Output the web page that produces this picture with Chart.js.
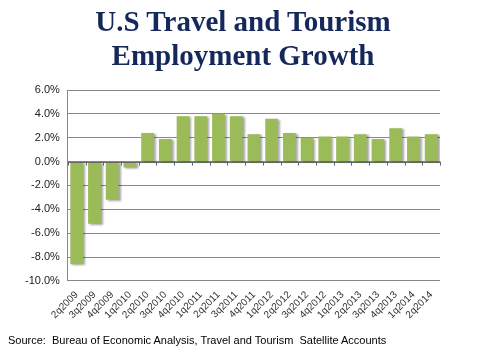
<!DOCTYPE html>
<html>
<head>
<meta charset="utf-8">
<script src="https://cdn.jsdelivr.net/npm/chart.js@4"></script>
<style>
  html, body { margin: 0; padding: 0; background: #fff; }
  #wrap { position: relative; width: 480px; height: 360px; }
  #title { position: absolute; left: 0; top: 4px; width: 486px; text-align: center; font: bold 29px/34px "Liberation Serif", "Times New Roman", serif; color: #14285a; }
  #source { position: absolute; left: 8px; top: 334px; font: 11px "Liberation Sans", Arial, sans-serif; color: #000; white-space: pre; }
</style>
</head>
<body>
<div id="wrap">
  <canvas id="myChart" width="480" height="360"></canvas>
  <div id="title"></div>
  <div id="source">Source:  Bureau of Economic Analysis, Travel and Tourism  Satellite Accounts</div>
</div>
<script>
  const quarters = ['2q2009', '3q2009', '4q2009', '1q2010', '2q2010', '3q2010', '4q2010',
    '1q2011', '2q2011', '3q2011', '4q2011', '1q2012', '2q2012', '3q2012', '4q2012',
    '1q2013', '2q2013', '3q2013', '4q2013', '1q2014', '2q2014'];
  const growth = [-8.6, -5.2, -3.2, -0.5, 2.4, 1.9, 3.8, 3.8, 4.0, 3.8, 2.3, 3.6, 2.4, 2.0, 2.1,
    2.1, 2.3, 1.9, 2.8, 2.1, 2.3];
  const titleLines = ['U.S Travel and Tourism', 'Employment Growth'];

  document.getElementById('title').innerHTML = titleLines.join('<br>');

  // sombra das barras, como no Excel
  const barShadow = {
    id: 'barShadow',
    beforeDatasetsDraw(chart) {
      const ctx = chart.ctx;
      ctx.save();
      ctx.shadowColor = 'rgba(0,0,0,0.35)';
      ctx.shadowOffsetX = 2;
      ctx.shadowOffsetY = 1;
      ctx.shadowBlur = 2;
    },
    afterDatasetsDraw(chart) {
      chart.ctx.restore();
    }
  };

  // marcas do eixo das categorias sobre a linha do zero
  const zeroTicks = {
    id: 'zeroTicks',
    afterDatasetsDraw(chart) {
      const ctx = chart.ctx;
      const x = chart.scales.x;
      const y0 = chart.scales.y.getPixelForValue(0);
      ctx.save();
      ctx.strokeStyle = '#666';
      ctx.lineWidth = 1;
      ctx.beginPath();
      ctx.moveTo(x.left, Math.round(y0) + 0.5);
      ctx.lineTo(x.right, Math.round(y0) + 0.5);
      for (let i = 0; i <= quarters.length; i++) {
        const px = Math.round(x.left + (x.right - x.left) * i / quarters.length) + 0.5;
        ctx.moveTo(px, y0);
        ctx.lineTo(px, y0 + 4);
      }
      ctx.stroke();
      ctx.restore();
    }
  };

  const config = {
    type: 'bar',
    data: {
      labels: quarters,
      datasets: [{
        data: growth,
        backgroundColor: '#9bbb59',
        barPercentage: 0.72,
        categoryPercentage: 1
      }]
    },
    plugins: [barShadow, zeroTicks],
    options: {
      responsive: false,
      animation: false,
      layout: { padding: { left: 17, right: 40, top: 90, bottom: 39 } },
      plugins: {
        legend: { display: false },
        tooltip: { enabled: false },
        title: { display: false }
      },
      scales: {
        x: {
          grid: { display: false },
          border: { display: false },
          ticks: {
            color: '#333',
            font: { family: '"Liberation Sans", Arial, sans-serif', size: 10 },
            maxRotation: 45,
            minRotation: 45,
            autoSkip: false,
            padding: 0
          }
        },
        y: {
          min: -10,
          max: 6,
          grid: { color: '#888', drawTicks: false },
          border: { display: true, color: '#888' },
          ticks: {
            stepSize: 2,
            color: '#222',
            padding: 8,
            font: { family: '"Liberation Sans", Arial, sans-serif', size: 11 },
            callback: v => v.toFixed(1) + '%'
          }
        }
      }
    }
  };

  new Chart(document.getElementById('myChart'), config);
</script>
</body>
</html>
